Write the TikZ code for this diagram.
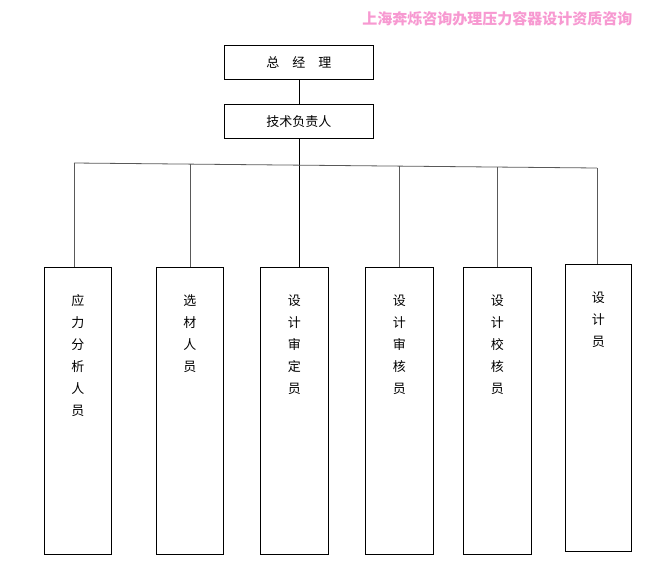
\documentclass[tikz,border=0pt]{standalone}
\usepackage{fontspec}
\newfontfamily\cjk{Noto Sans CJK SC}
\begin{document}
\begin{tikzpicture}[x=1pt,y=-1pt,
  box/.style={draw,thick,inner sep=0pt,anchor=north west},
  lbl/.style={font=\cjk\fontsize{13}{22}\selectfont,align=center,text width=20pt},
  ln/.style={thick,gray!70!black}]
\useasboundingbox (0,0) rectangle (660,584);
\node[box,minimum width=149pt,minimum height=34pt,font=\cjk\fontsize{13}{15}\selectfont] (gm) at (224,45) {总\quad 经\quad 理};
\node[box,minimum width=149pt,minimum height=34pt,font=\cjk\fontsize{13}{15}\selectfont] (tech) at (224,104) {技术负责人};
\node[font=\cjk\bfseries\fontsize{15}{17}\selectfont,text=magenta!40,anchor=east] (wm) at (636,19) {上海奔烁咨询办理压力容器设计资质咨询};
\foreach \n/\x/\y/\w/\t in {a/44/267/67/{应\\力\\分\\析\\人\\员}, b/156/267/67/{选\\材\\人\\员}, c/260/267/68/{设\\计\\审\\定\\员}, d/365/267/68/{设\\计\\审\\核\\员}, e/463/267/68/{设\\计\\校\\核\\员}, f/565/264/66/{设\\计\\员}}{
  \node[box,minimum width=\w pt,minimum height=287pt] (\n) at (\x,\y) {};
  \node[lbl,anchor=north] (\n t) at ([yshift=-24pt]\n.north) {\t};
}
\coordinate (hl) at (74,163);
\coordinate (hr) at (597,168);
\draw[thick] (gm) -- (tech);
\draw[thick] (tech.south) -- (tech.south |- c.north);
\draw[ln] (hl) -- (hr);
\draw[ln] (hl) -- (hl |- a.north);
\draw[ln] (b.north) -- (b.north |- 0,164);
\draw[ln] (d.north) -- (d.north |- 0,166);
\draw[ln] (e.north) -- (e.north |- 0,167);
\draw[ln] (hr) -- (hr |- f.north);
\end{tikzpicture}
\end{document}
